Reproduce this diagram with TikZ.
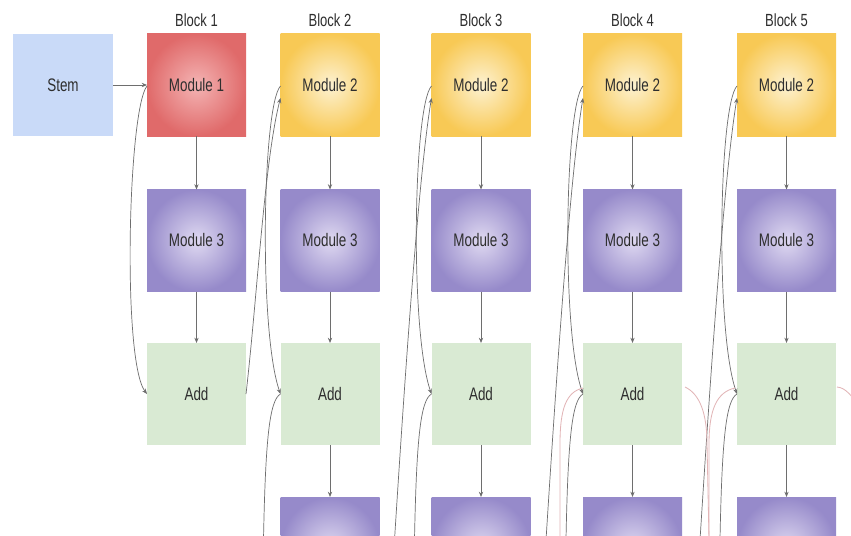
\documentclass[tikz,border=0pt]{standalone}
\usepackage{fontspec}
\setmainfont{Liberation Sans}[FakeStretch=0.74]
\usetikzlibrary{arrows.meta,calc}

\definecolor{stemblue}{HTML}{C9DAF8}
\definecolor{redin}{HTML}{F4B4B4}
\definecolor{redout}{HTML}{E06A6A}
\definecolor{yelin}{HTML}{FDF2D2}
\definecolor{yelout}{HTML}{F8C955}
\definecolor{purin}{HTML}{DFD9F1}
\definecolor{purout}{HTML}{968ACA}
\definecolor{addgreen}{HTML}{D9EAD3}
\definecolor{txt}{HTML}{2E2E2E}
\definecolor{wire}{HTML}{6E6E6E}
\definecolor{pinkwire}{HTML}{E2B4B6}

\begin{document}
\begin{tikzpicture}[x=0.03cm,y=-0.03cm,
  box/.style={minimum width=2.97cm, minimum height=3.06cm, inner sep=0pt,
              outer sep=0pt, font=\fontsize{15.5}{17}\selectfont, text=txt},
  stembox/.style={box, minimum width=3cm, fill=stemblue},
  modone/.style={box, shading=radial, inner color=redin, outer color=redout},
  modtwo/.style={box, shading=radial, inner color=yelin, outer color=yelout},
  modthree/.style={box, shading=radial, inner color=purin, outer color=purout},
  addbox/.style={box, fill=addgreen},
  lbl/.style={font=\fontsize{15}{17}\selectfont, text=txt, inner sep=0pt},
  link/.style={draw=wire, line width=0.6pt},
  tip/.style={-{Stealth[length=4.5pt,width=3.6pt]}},
  res/.style={draw=pinkwire, line width=0.7pt}]

\useasboundingbox (0,0) rectangle (851,535);
\fill[white] (0,0) rectangle (851,535);
\clip (0,0) rectangle (851,535);

% stem and first block
\node[stembox] (stem) at (63,85) {Stem};
\node[lbl] (b1) at (196.5,20) {Block 1};
\node[modone] (m1) at (196.5,85) {Module 1};
\node[modthree] (m3-1) at (196.5,240.5) {Module 3};
\node[addbox] (add-1) at (196.5,394) {Add};

\draw[link,tip] (stem.east) -- (m1.west);
\draw[link,tip] (m1.south) -- (m3-1.north);
\draw[link,tip] (m3-1.south) -- (add-1.north);
% skip connection of block 1
\draw[link,tip] ($(m1.west)+(0,1)$) .. controls ($(m1.west)+(-19,25)$) and ($(add-1.west)+(-25,-33)$) .. (add-1.west);

% blocks 2 to 5
\foreach \i/\cx in {2/330,3/481,4/632.5,5/786.5}{
  \node[lbl] (b\i) at (\cx,20) {Block \i};
  \node[modtwo] (m2-\i) at (\cx,85) {Module 2};
  \node[modthree] (m3-\i) at (\cx,240.5) {Module 3};
  \node[addbox] (add-\i) at (\cx,394) {Add};
  \node[modthree] (nx-\i) at (\cx,548) {};
  \draw[link,tip] (m2-\i.south) -- (m3-\i.north);
  \draw[link,tip] (m3-\i.south) -- (add-\i.north);
  \draw[link,tip] (add-\i.south) -- (nx-\i.north);
  % skip connection from block input to Add
  \draw[link,tip] ($(m2-\i.west)+(0,1)$) .. controls ($(m2-\i.west)+(-18,20)$) and ($(add-\i.west)+(-22,-63)$) .. (add-\i.west);
  % branch leaving downwards from Add
  \coordinate (dn-\i) at ($(add-\i.west)+(-17,145)$);
  \draw[link] (add-\i.west) .. controls ($(add-\i.west)+(-11,6)$) and ($(add-\i.west)+(-15,45)$) .. (dn-\i);
}

% block 2 input comes from the Add of block 1
\draw[link,tip] (add-1.east) .. controls ($(add-1.east)+(11,-95)$) and ($(m2-2.west)+(-16,75)$) .. ($(m2-2.west)+(0,13)$);

% inputs of blocks 3 to 5 enter from below
\foreach \i in {3,4,5}{
  \coordinate (in-\i) at ($(m2-\i.west)+(-37,455)$);
  \draw[link,tip] (in-\i) .. controls ($(m2-\i.west)+(-25,265)$) and ($(m2-\i.west)+(-12,85)$) .. ($(m2-\i.west)+(0,13)$);
}

% residual paths drawn in pink
\coordinate (r4) at ($(add-4.west)+(-23,145)$);
\draw[res] ($(add-4.west)+(0,-6)$) .. controls ($(add-4.west)+(-17,-2)$) and ($(add-4.west)+(-23,15)$) .. ($(add-4.west)+(-23,50)$) -- (r4);
\coordinate (r5) at ($(add-5.west)+(-28,145)$);
\draw[res] ($(add-4.east)+(3,-7)$) .. controls ($(add-4.east)+(18,0)$) and ($(add-4.east)+(25,20)$) .. ($(add-4.east)+(25,50)$) -- (r5);
\draw[res] ($(add-5.west)+(-2,-6)$) .. controls ($(add-5.west)+(-20,-2)$) and ($(add-5.west)+(-28,15)$) .. ($(add-5.west)+(-28,50)$) -- (r5);
\coordinate (r6) at ($(add-5.east)+(30,20)$);
\draw[res] ($(add-5.east)+(1,-7)$) .. controls ($(add-5.east)+(10,-6)$) and ($(add-5.east)+(14,0)$) .. (r6);

\end{tikzpicture}
\end{document}
